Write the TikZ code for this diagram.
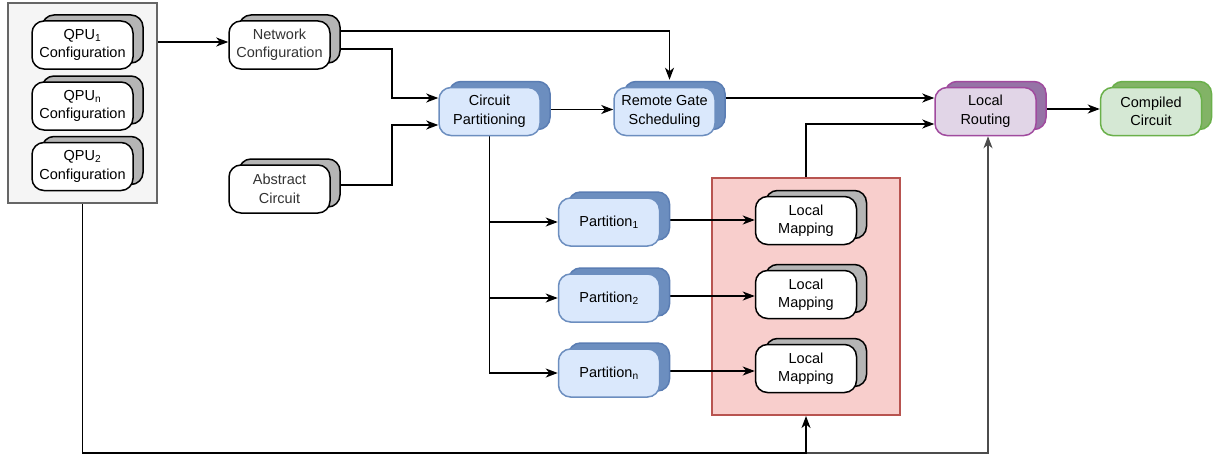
\documentclass[tikz,border=0pt]{standalone}
\usepackage{fontspec}
\setmainfont{Liberation Sans}
\usetikzlibrary{arrows.meta,positioning,backgrounds,shadows,calc}
\definecolor{shgray}{HTML}{B5B5B5}
\definecolor{blfill}{HTML}{DAE8FC}
\definecolor{bldraw}{HTML}{6C8EBF}
\definecolor{blback}{HTML}{5A7DB3}
\definecolor{pufill}{HTML}{E1D5E7}
\definecolor{pudraw}{HTML}{A04A9E}
\definecolor{puback}{HTML}{9673A6}
\definecolor{grfill}{HTML}{D5E8D4}
\definecolor{grdraw}{HTML}{6AB04A}
\definecolor{grback}{HTML}{82B366}
\definecolor{redfill}{HTML}{F8CECC}
\definecolor{reddraw}{HTML}{B85450}
\definecolor{frfill}{HTML}{F5F5F5}
\definecolor{frdraw}{HTML}{666666}
\begin{document}
\begin{tikzpicture}
[x=1pt,y=-1pt,
box/.style={rounded corners=12pt,line width=1.5pt,minimum width=101pt,minimum height=48pt,align=center,inner sep=2pt,font=\fontsize{14.5}{18.5}\selectfont},
whitebox/.style={box,fill=white,draw=black,copy shadow={shadow xshift=10pt,shadow yshift=6pt,fill=shgray,draw=black,line width=1.5pt}},
bluebox/.style={box,fill=blfill,draw=bldraw,copy shadow={shadow xshift=10pt,shadow yshift=6pt,fill=bldraw,draw=blback,line width=1.5pt}},
purplebox/.style={box,fill=pufill,draw=pudraw,copy shadow={shadow xshift=10pt,shadow yshift=6pt,fill=puback,draw=pudraw,line width=1.5pt}},
greenbox/.style={box,fill=grfill,draw=grdraw,copy shadow={shadow xshift=10pt,shadow yshift=6pt,fill=grback,draw=grdraw,line width=1.5pt}},
frame/.style={draw=frdraw,fill=frfill,line width=2pt,minimum width=149pt,minimum height=200pt},
mapframe/.style={draw=reddraw,fill=redfill,line width=2pt,minimum width=188pt,minimum height=237pt},
arr/.style={-{Stealth[length=12pt,width=9pt,inset=3.5pt]},line width=1.3pt}]
\useasboundingbox (0,0) rectangle (1222,460);

\node[whitebox] (qpu1) at (82.5,45) {QPU\textsubscript{1}\\Configuration};
\node[whitebox] (qpun) at (82.5,106) {QPU\textsubscript{n}\\Configuration};
\node[whitebox] (qpu2) at (82.5,166.5) {QPU\textsubscript{2}\\Configuration};
\node[whitebox,text=black!80] (net) at (279.5,45) {Network\\Configuration};
\node[whitebox,text=black!80] (abs) at (279.5,189) {Abstract\\Circuit};
\node[bluebox] (cp) at (489.5,111.5) {Circuit\\Partitioning};
\node[bluebox] (rgs) at (664.5,111.5) {Remote Gate\\Scheduling};
\node[purplebox] (lr) at (985.5,111.5) {Local\\Routing};
\node[greenbox] (cc) at (1151,111.5) {Compiled\\Circuit};
\node[bluebox] (p1) at (609,222) {Partition\textsubscript{1}};
\node[bluebox] (p2) at (609,298) {Partition\textsubscript{2}};
\node[bluebox] (pn) at (609,373) {Partition\textsubscript{n}};
\node[whitebox] (lm1) at (806,220.5) {Local\\Mapping};
\node[whitebox] (lm2) at (806,294.5) {Local\\Mapping};
\node[whitebox] (lmn) at (806,368.5) {Local\\Mapping};

\coordinate (netin) at ([yshift=3pt]net.west);
\coordinate (netout1) at ([yshift=14pt]net.east);
\coordinate (netout2) at ([yshift=-4pt]net.east);
\coordinate (absout) at ([yshift=4pt]abs.east);
\coordinate (join) at ($(net.east)!0.57!(cp.west)$);
\coordinate (cpin1) at ([yshift=13.5pt]cp.west);
\coordinate (cpin2) at ([yshift=-13.5pt]cp.west);
\coordinate (rgsin) at ([xshift=5pt,yshift=7pt]rgs.north);
\coordinate (lrin1) at ([yshift=13.5pt]lr.west);
\coordinate (lrin2) at ([yshift=-12.5pt]lr.west);
\coordinate (lrbot) at ([xshift=2.5pt]lr.south);

\begin{scope}[on background layer]
\node[frame] (qpubox) at (82.5,103) {};
\node[mapframe] (mapbox) at (806,296.5) {};
\coordinate (low) at ([yshift=-37pt]mapbox.south);

\draw[arr] (qpubox.east |- netin) -- (netin);
\draw[arr] (netout1) -| (rgsin);
\draw[arr] (netout2) -| (cpin1 -| join) -- (cpin1);
\draw[arr] (absout) -| (cpin2 -| join) -- (cpin2);
\draw[arr] ([yshift=2pt]cp.east) -- ([yshift=2pt]rgs.west);
\draw[arr] ([yshift=13.5pt]rgs.east) -- (lrin1);
\draw[arr] ([yshift=2.5pt]lr.east) -- ([yshift=2.5pt]cc.west);
\draw[arr] (mapbox.north) |- (lrin2);
\draw[arr] (cp.south) |- (p1.west);
\draw[arr] (cp.south) |- (p2.west);
\draw[arr] (cp.south) |- (pn.west);
\draw[arr] ([yshift=2pt]p1.east) -- ([yshift=2pt]p1.east -| lm1.west);
\draw[arr] ([yshift=2pt]p2.east) -- ([yshift=2pt]p2.east -| lm2.west);
\draw[arr] ([yshift=2pt]pn.east) -- ([yshift=2pt]pn.east -| lmn.west);
\draw[arr,black!70] (qpubox.south) |- (low -| lrbot) -- (lrbot);
\draw[arr,line width=1.6pt] (qpubox.south) |- (low -| mapbox.south) -- (mapbox.south);
\end{scope}
\end{tikzpicture}
\end{document}
